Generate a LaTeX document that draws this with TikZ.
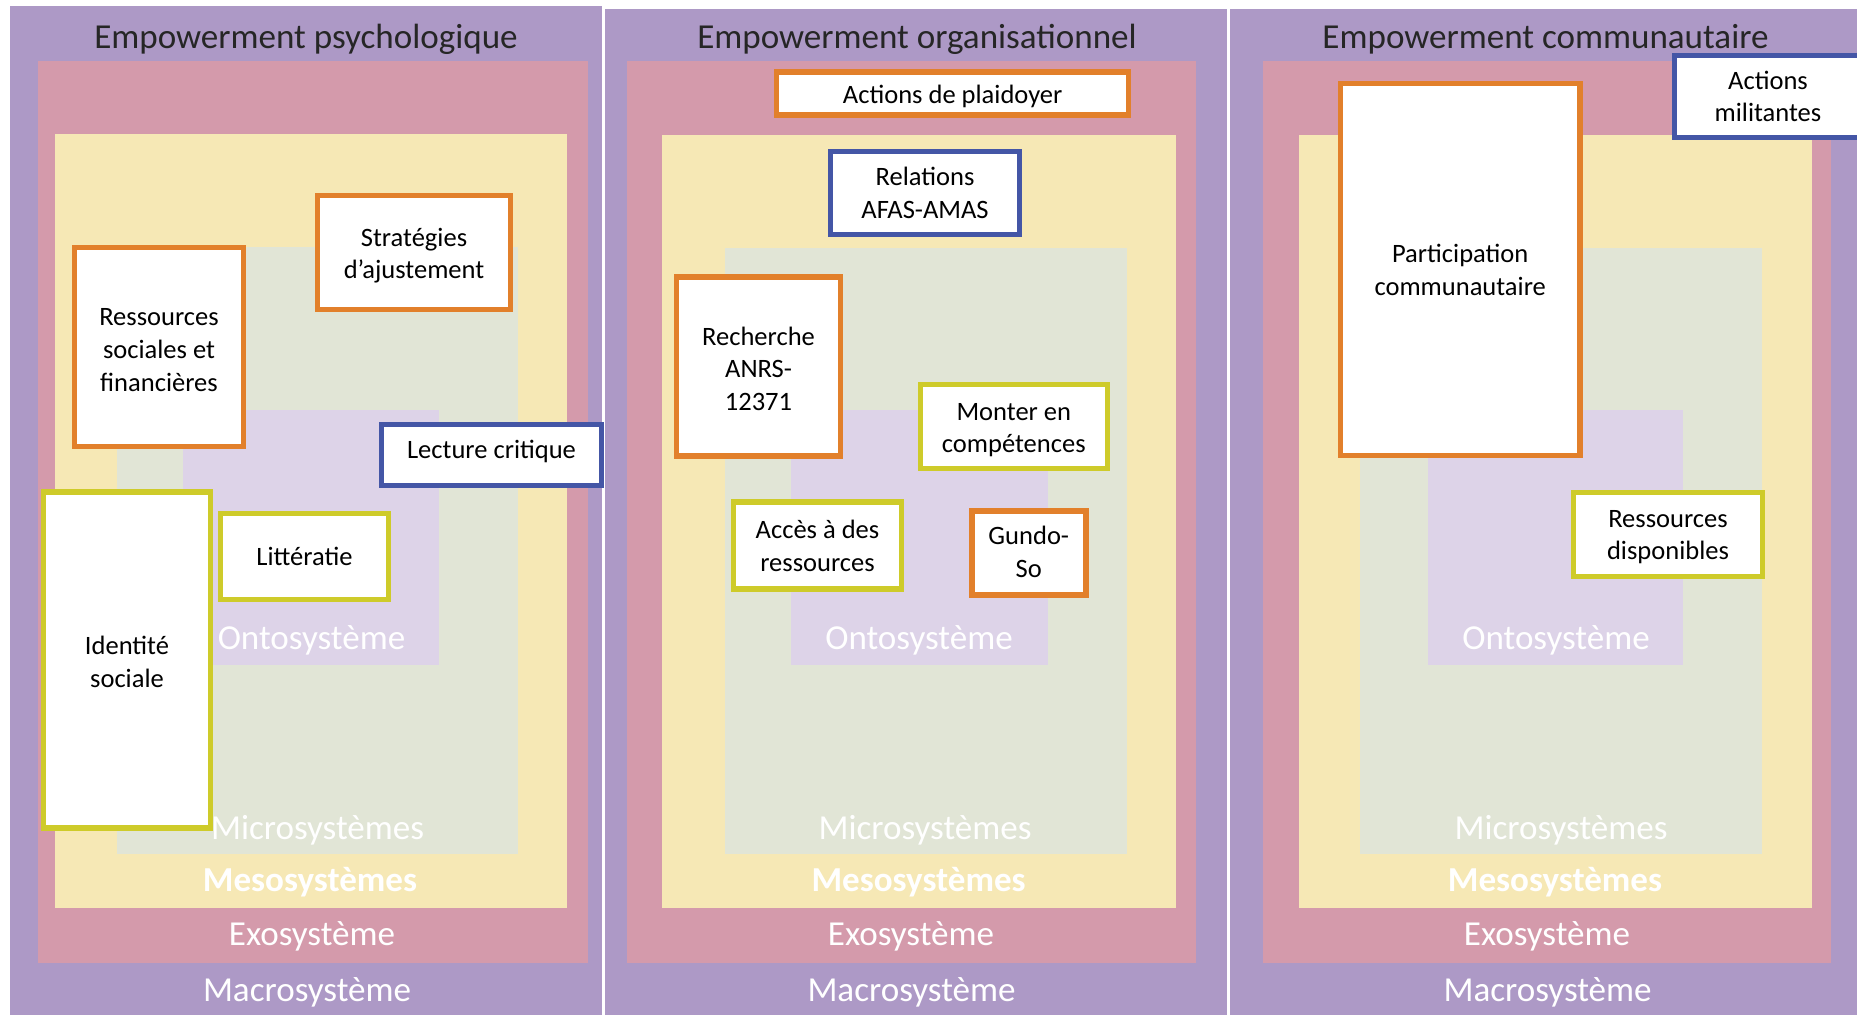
\documentclass[tikz,border=0pt]{standalone}
\usepackage{fontspec}
\setmainfont{Carlito}
\definecolor{cmacro}{HTML}{AD99C6}
\definecolor{cexo}{HTML}{D49AAB}
\definecolor{cmeso}{HTML}{F6E8B5}
\definecolor{cmicro}{HTML}{E1E5D6}
\definecolor{conto}{HTML}{DDD3E8}
\definecolor{corange}{HTML}{E2802B}
\definecolor{cblue}{HTML}{4456A6}
\definecolor{cyg}{HTML}{CECB2A}
\definecolor{ctitle}{HTML}{262626}
\tikzset{
  sz/.style 2 args={minimum width=#1*0.75pt, minimum height=#2*0.75pt},
  btxt/.style={inner sep=0pt, align=center, text=black,
    font=\fontsize{19.9}{24.5}\selectfont},
  bt/.style 2 args={label={[btxt, yshift=-#1*0.75pt]center:{#2}}},
  boxbase/.style={draw, fill=white, line width=4.1pt, inner sep=0pt},
  obox/.style={boxbase, draw=corange},
  bbox/.style={boxbase, draw=cblue},
  ybox/.style={boxbase, draw=cyg},
  ptitle/.style={anchor=base, inner sep=0pt, text=ctitle, font=\fontsize{26.3}{30}\selectfont},
  layerlbl/.style={anchor=base, inner sep=0pt, text=white, font=\fontsize{26.3}{30}\selectfont},
  layerbold/.style={layerlbl, font=\fontsize{26.3}{30}\selectfont\bfseries},
}
\begin{document}
\begin{tikzpicture}[x=0.75pt, y=-0.75pt]
\useasboundingbox (0,0) rectangle (1857,1015);
\clip (0,0) rectangle (1857,1015);
\fill[white] (0,0) rectangle (1857,1015);
% ---------- Panel 1 ----------
\fill[cmacro] (10,6) rectangle (602,1015);
\fill[cexo] (38,61) rectangle (588,963);
\fill[cmeso] (55,134) rectangle (567,907.5);
\fill[cmicro] (117,247) rectangle (518,854);
\fill[conto] (183,410) rectangle (439,665);
\node[ptitle] (t1) at (306,48.8) {Empowerment psychologique};
\node[layerlbl] (onto1) at (311.5,649.5) {Ontosystème};
\node[layerlbl] (micro1) at (317.5,839) {Microsystèmes};
\node[layerbold] (meso1) at (310,891) {Mesosystèmes};
\node[layerlbl] (exo1) at (312,945.5) {Exosystème};
\node[layerlbl] (macro1) at (307,1001.5) {Macrosystème};
% ---------- Panel 2 ----------
\fill[cmacro] (605,9) rectangle (1227,1015);
\fill[cexo] (626.5,61) rectangle (1196,963);
\fill[cmeso] (662,135) rectangle (1175.6,907.5);
\fill[cmicro] (724.5,248) rectangle (1126.6,854);
\fill[conto] (791,409.5) rectangle (1047.8,665);
\node[ptitle] (t2) at (917,48.8) {Empowerment organisationnel};
\node[layerlbl] (onto2) at (919,649.5) {Ontosystème};
\node[layerlbl] (micro2) at (925,839) {Microsystèmes};
\node[layerbold] (meso2) at (918.6,891) {Mesosystèmes};
\node[layerlbl] (exo2) at (911,945.5) {Exosystème};
\node[layerlbl] (macro2) at (911.5,1001.5) {Macrosystème};
% ---------- Panel 3 ----------
\fill[cmacro] (1230,9) rectangle (1870,1015);
\fill[cexo] (1262.7,61) rectangle (1831,963);
\fill[cmeso] (1299,135) rectangle (1812,907.5);
\fill[cmicro] (1360,248) rectangle (1762,854);
\fill[conto] (1428,409.5) rectangle (1683,665);
\node[ptitle] (t3) at (1545.5,48.8) {Empowerment communautaire};
\node[layerlbl] (onto3) at (1556,649.5) {Ontosystème};
\node[layerlbl] (micro3) at (1561,839) {Microsystèmes};
\node[layerbold] (meso3) at (1555,891) {Mesosystèmes};
\node[layerlbl] (exo3) at (1547,945.5) {Exosystème};
\node[layerlbl] (macro3) at (1547.6,1001.5) {Macrosystème};
% ---------- Boxes panel 1 ----------
\node[obox, sz={192.5}{113.5}, bt={3}{Stratégies\\d’ajustement}] (strat) at (414,252.5) {};
\node[obox, sz={169.5}{198.5}, bt={3}{Ressources\\sociales et\\financières}] (ressoc) at (159,347) {};
\node[bbox, sz={219.5}{60.5}, bt={-3.5}{Lecture critique}] (lect) at (491.5,455) {};
\node[ybox, sz={167.5}{336}, bt={2}{Identité\\sociale}] (ident) at (127,660) {};
\node[ybox, sz={168.5}{85.5}, bt={0}{Littératie}] (litt) at (304.5,556.5) {};
% ---------- Boxes panel 2 ----------
\node[obox, sz={352}{43.2}, bt={3.5}{Actions de plaidoyer}] (plaid) at (952.7,93.4) {};
\node[bbox, sz={189}{83.3}, bt={0}{Relations\\AFAS-AMAS}] (relat) at (925,193) {};
\node[obox, sz={163.5}{179}, bt={2.5}{Recherche\\ANRS-\\12371}] (rech) at (758.5,366.3) {};
\node[ybox, sz={187}{83.5}, bt={3.5}{Monter en\\compétences}] (monter) at (1013.8,426.5) {};
\node[ybox, sz={168.5}{87}, bt={0}{Accès à des\\ressources}] (acces) at (817.5,545.7) {};
\node[obox, sz={114}{84}, bt={-1}{Gundo-\\So}] (gundo) at (1028.8,552.9) {};
% ---------- Boxes panel 3 ----------
\node[obox, sz={239.5}{372}, bt={0.5}{Participation\\communautaire}] (partic) at (1460.2,269.5) {};
\node[bbox, sz={198.5}{81.5}, label={[btxt, xshift=-5.7*0.75pt]center:{Actions\\militantes}}] (milit) at (1773.7,96.5) {};
\node[ybox, sz={188.5}{83.5}, bt={2.5}{Ressources\\disponibles}] (dispo) at (1668,534.5) {};
\end{tikzpicture}
\end{document}
